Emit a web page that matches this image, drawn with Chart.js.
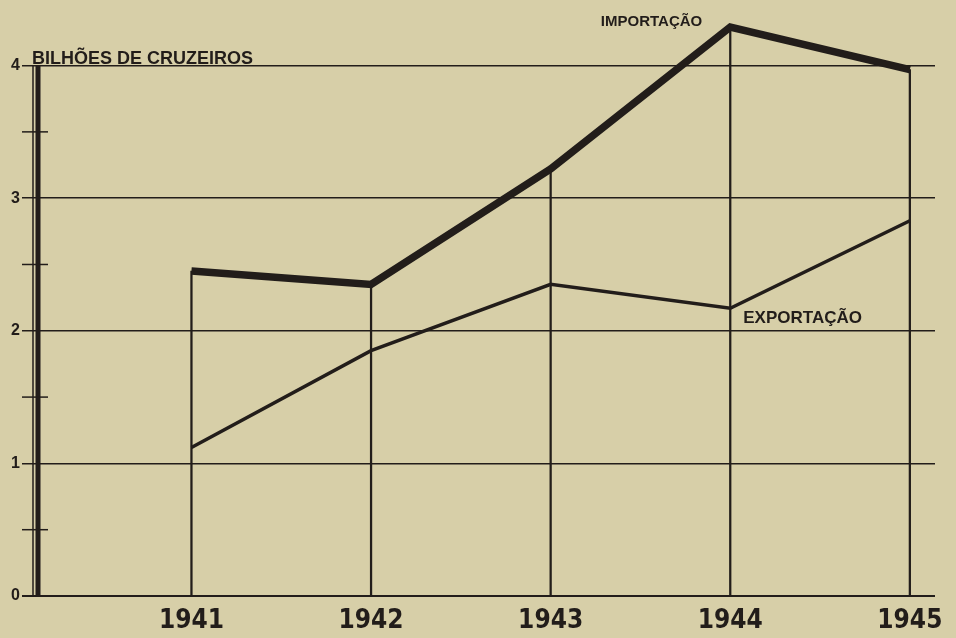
<!DOCTYPE html>
<html><head><meta charset="utf-8">
<script src="https://cdn.jsdelivr.net/npm/chart.js@4/dist/chart.umd.min.js"></script>
<style>html,body{margin:0;padding:0;background:#d7cfa8;overflow:hidden}canvas{display:block}</style>
</head><body>
<canvas id="c" width="956" height="638"></canvas>
<script>
// ---- data ----
const years = [1941, 1942, 1943, 1944, 1945];
const importacao = [2.45, 2.35, 3.22, 4.29, 3.97];
const exportacao = [1.12, 1.85, 2.35, 2.17, 2.83];
const yTickValues = [0, 0.5, 1, 1.5, 2, 2.5, 3, 3.5, 4];
const yLabelValues = [0, 1, 2, 3, 4];
const unitLabel = 'BILHÕES DE CRUZEIROS';
const seriesNames = ['IMPORTAÇÃO', 'EXPORTAÇÃO'];

const INK = '#221d1a';
const BG = '#d7cfa8';

const deco = {
  id: 'deco',
  beforeDraw(chart) {
    const c = chart.ctx;
    c.save();
    c.fillStyle = BG;
    c.fillRect(0, 0, chart.width, chart.height);
    c.restore();
  },
  afterDraw(chart) {
    const c = chart.ctx, xs = chart.scales.x, ys = chart.scales.y;
    const y0 = ys.getPixelForValue(0), y4 = ys.getPixelForValue(4);
    const ax = chart.chartArea.left;
    c.save();
    c.strokeStyle = INK;
    c.lineWidth = 5;
    c.beginPath(); c.moveTo(ax + 1, y4); c.lineTo(ax + 1, y0 + 1); c.stroke();
    c.lineWidth = 1.5;
    c.beginPath(); c.moveTo(ax - 4, y4); c.lineTo(ax - 4, y0 + 1); c.stroke();
    yTickValues.filter(v => v % 1 !== 0).forEach(v => {
      const py = ys.getPixelForValue(v);
      c.beginPath(); c.moveTo(ax - 15, py); c.lineTo(ax + 11, py); c.stroke();
    });
    c.fillStyle = INK;
    c.textBaseline = 'alphabetic';
    c.font = 'bold 18px "Liberation Sans", Arial, sans-serif';
    c.textAlign = 'left';
    c.fillText(unitLabel, ax - 5, y4 - 2);
    c.font = 'bold 15px "Liberation Sans", Arial, sans-serif';
    c.textAlign = 'right';
    c.fillText(seriesNames[0], xs.getPixelForValue(1944) - 28, ys.getPixelForValue(4.3));
    c.font = 'bold 17px "Liberation Sans", Arial, sans-serif';
    c.textAlign = 'left';
    c.fillText(seriesNames[1], xs.getPixelForValue(1944) + 13, ys.getPixelForValue(2.06));
    c.restore();
  }
};

const pts = arr => years.map((y, i) => ({ x: y, y: arr[i] }));

new Chart(document.getElementById('c'), {
  type: 'line',
  data: {
    datasets: [
      { type: 'bar', label: 'drop', data: pts(importacao), backgroundColor: INK,
        barThickness: 1.6, order: 3, clip: false },
      { label: seriesNames[0], data: pts(importacao), borderColor: INK, borderWidth: 7.5,
        pointRadius: 0, tension: 0, borderCapStyle: 'butt', borderJoinStyle: 'miter', order: 1, clip: false },
      { label: seriesNames[1], data: pts(exportacao), borderColor: INK, borderWidth: 3.5,
        pointRadius: 0, tension: 0, borderCapStyle: 'butt', order: 2, clip: false }
    ]
  },
  options: {
    responsive: false,
    animation: false,
    layout: { padding: { left: 0, right: 21, top: 0, bottom: 0 } },
    plugins: { legend: { display: false }, tooltip: { enabled: false } },
    scales: {
      x: {
        type: 'linear', min: 1940.14, max: 1945.14, offset: false,
        afterBuildTicks: s => { s.ticks = years.map(v => ({ value: v })); },
        afterFit: s => { s.height = 42; },
        grid: { display: false, drawTicks: false },
        border: { display: false },
        ticks: { padding: 10, color: INK, autoSkip: false, maxRotation: 0,
          font: { family: '"DejaVu Sans Condensed", "Liberation Sans Narrow", sans-serif', size: 26, weight: 'bold' },
          callback: v => String(v) }
      },
      y: {
        min: 0, max: 4.407,
        afterBuildTicks: s => { s.ticks = yTickValues.map(v => ({ value: v })); },
        afterFit: s => { s.width = 37; },
        border: { display: false },
        grid: {
          color: ctx => (ctx.tick && yLabelValues.includes(ctx.tick.value)) ? INK : 'rgba(0,0,0,0)',
          lineWidth: ctx => (ctx.tick && ctx.tick.value === 0) ? 2 : 1.5,
          tickLength: 15,
          drawTicks: true
        },
        ticks: { padding: 2, color: INK, autoSkip: false,
          font: { family: '"Liberation Sans", Arial, sans-serif', size: 16, weight: 'bold' },
          callback: v => yLabelValues.includes(v) ? String(v) : '' }
      }
    }
  },
  plugins: [deco]
});
</script>
</body></html>
